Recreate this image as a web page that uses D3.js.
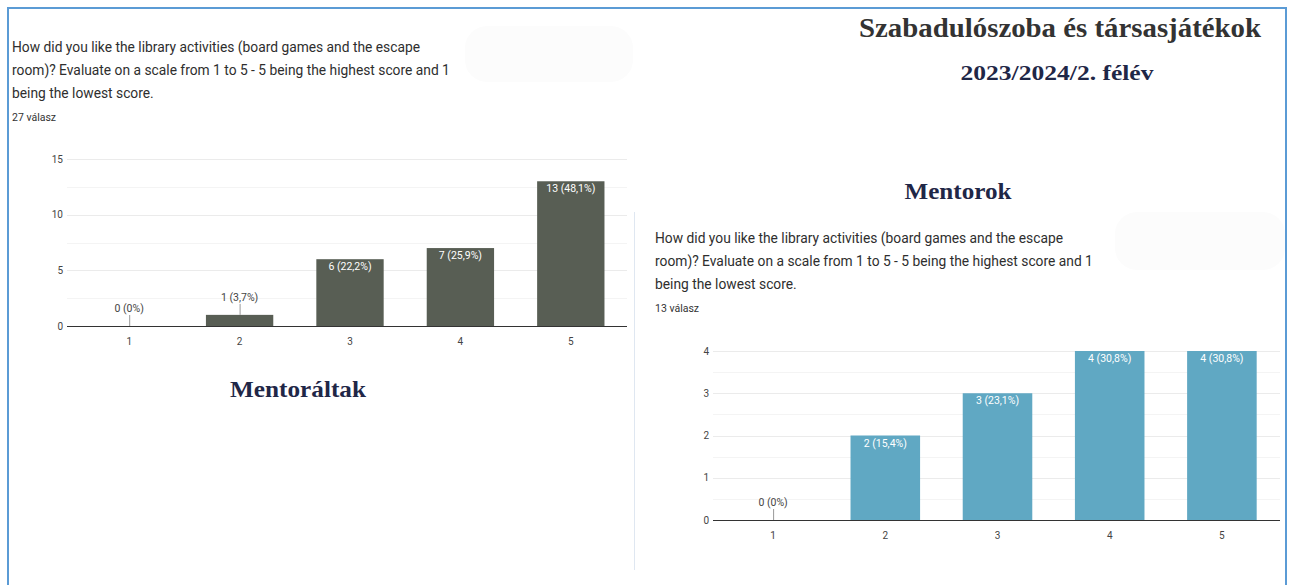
<!DOCTYPE html>
<html>
<head>
<meta charset="utf-8">
<script src="https://cdn.jsdelivr.net/npm/d3@7"></script>
<style>
  body { margin: 0; background: #fff; }
  svg { display: block; }
</style>
</head>
<body>
<svg id="chart" width="1291" height="585"></svg>
<script>
// data
var scores = ["1", "2", "3", "4", "5"];
var mentoraltCounts = [0, 1, 6, 7, 13];
var mentoraltLabels = ["0 (0%)", "1 (3,7%)", "6 (22,2%)", "7 (25,9%)", "13 (48,1%)"];
var mentorCounts = [0, 2, 3, 4, 4];
var mentorLabels = ["0 (0%)", "2 (15,4%)", "3 (23,1%)", "4 (30,8%)", "4 (30,8%)"];
var leftTicks = [0, 5, 10, 15];
var rightTicks = [0, 1, 2, 3, 4];
var questionLines = [
  "How did you like the library activities (board games and the escape",
  "room)? Evaluate on a scale from 1 to 5 - 5 being the highest score and 1",
  "being the lowest score."
];

var svg = d3.select("#chart");

// frame
svg.append("line").attr("x1", 8).attr("x2", 8).attr("y1", 7).attr("y2", 585)
  .attr("stroke", "#5b9bd5").attr("stroke-width", 2);
svg.append("line").attr("x1", 7).attr("x2", 1287).attr("y1", 8).attr("y2", 8)
  .attr("stroke", "#5b9bd5").attr("stroke-width", 2);
svg.append("line").attr("x1", 1286).attr("x2", 1286).attr("y1", 7).attr("y2", 585)
  .attr("stroke", "#5b9bd5").attr("stroke-width", 2);

// faint divider
svg.append("line").attr("x1", 634.5).attr("x2", 634.5).attr("y1", 212).attr("y2", 570)
  .attr("stroke", "#dfe7f1").attr("stroke-width", 1);

// faint blurred boxes
svg.append("rect").attr("x", 465).attr("y", 26).attr("width", 168).attr("height", 56)
  .attr("rx", 22).attr("fill", "#fcfcfc");
svg.append("rect").attr("x", 1115).attr("y", 212).attr("width", 170).attr("height", 58)
  .attr("rx", 22).attr("fill", "#fcfcfc");

// headings
function heading(txt, x, y, size, len, color) {
  svg.append("text").text(txt)
    .attr("x", x).attr("y", y)
    .attr("text-anchor", "middle")
    .attr("font-family", "'Liberation Serif', 'Times New Roman', serif")
    .attr("font-weight", "bold")
    .attr("font-size", size)
    .attr("textLength", len)
    .attr("lengthAdjust", "spacingAndGlyphs")
    .attr("fill", color);
}
heading("Szabadulószoba és társasjátékok", 1060, 37, 28, 402, "#333333");
heading("2023/2024/2. félév", 1057, 80, 22, 193, "#1f2747");
heading("Mentorok", 958, 199, 24, 107, "#1f2747");
heading("Mentoráltak", 298, 397, 24, 136, "#1f2747");

function question(x, y0, n) {
  questionLines.forEach(function(l, i) {
    svg.append("text").text(l)
      .attr("x", x).attr("y", y0 + i * 23)
      .attr("font-family", "Roboto, sans-serif")
      .attr("font-size", 13.8)
      .attr("fill", "#2e2e2e");
  });
  svg.append("text").text(n + " válasz")
    .attr("x", x).attr("y", y0 + 69)
    .attr("font-family", "Roboto, sans-serif")
    .attr("font-size", 10.5)
    .attr("fill", "#333");
}
question(12, 52, 27);
question(655, 243, 13);

function barChart(opt) {
  var g = svg.append("g");
  var x = d3.scaleBand().domain(scores).range(opt.xr).paddingInner(opt.pad).paddingOuter(opt.pad / 2);
  var y = d3.scaleLinear().domain([0, opt.max]).range(opt.yr);

  // grid
  g.selectAll("line.grid")
    .data(d3.range(0, opt.max + 0.001, opt.minor)).enter()
    .append("line")
      .attr("x1", opt.gx[0]).attr("x2", opt.gx[1])
      .attr("y1", function(d) { return Math.round(y(d)) + 0.5; })
      .attr("y2", function(d) { return Math.round(y(d)) + 0.5; })
      .attr("stroke", function(d, i) { return i % 2 === 0 ? "#ebebeb" : "#f4f4f4"; });

  // y axis labels
  var yAxis = g.append("g")
    .attr("transform", "translate(" + (opt.gx[0] - 4) + ",0)")
    .call(d3.axisLeft(y).tickValues(opt.ticks).tickFormat(d3.format("d")).tickSize(0).tickPadding(0));
  yAxis.select(".domain").remove();
  yAxis.selectAll("text").attr("font-family", "Roboto, sans-serif").attr("font-size", 10).attr("fill", "#444");

  // bars
  g.selectAll("rect.bar")
    .data(opt.counts).enter()
    .append("rect")
      .attr("x", function(d, i) { return x(scores[i]); })
      .attr("y", function(d) { return y(d); })
      .attr("width", x.bandwidth())
      .attr("height", function(d) { return y(0) - y(d); })
      .attr("fill", opt.color);

  // labels
  opt.counts.forEach(function(d, i) {
    var cx = x(scores[i]) + x.bandwidth() / 2;
    var inside = (y(0) - y(d)) > 20;
    if (inside) {
      g.append("text").text(opt.labels[i])
        .attr("x", cx).attr("y", y(d) + 11)
        .attr("text-anchor", "middle")
        .attr("font-family", "Roboto, sans-serif").attr("font-size", 10.5)
        .attr("fill", "#fff");
    } else {
      g.append("line")
        .attr("x1", cx + 0.5).attr("x2", cx + 0.5)
        .attr("y1", y(d) - 11).attr("y2", y(d))
        .attr("stroke", "#999");
      g.append("text").text(opt.labels[i])
        .attr("x", cx).attr("y", y(d) - 14)
        .attr("text-anchor", "middle")
        .attr("font-family", "Roboto, sans-serif").attr("font-size", 10.5)
        .attr("fill", "#444");
    }
  });

  // baseline
  g.append("line")
    .attr("x1", opt.gx[0]).attr("x2", opt.gx[1])
    .attr("y1", Math.round(y(0)) + 0.5).attr("y2", Math.round(y(0)) + 0.5)
    .attr("stroke", "#333").attr("stroke-width", 1);

  // x axis labels
  var xAxis = g.append("g")
    .attr("transform", "translate(0," + y(0) + ")")
    .call(d3.axisBottom(x).tickSize(0).tickPadding(12));
  xAxis.select(".domain").remove();
  xAxis.selectAll("text").attr("font-family", "Roboto, sans-serif").attr("font-size", 10).attr("fill", "#444");
}

barChart({
  counts: mentoraltCounts, labels: mentoraltLabels,
  xr: [74, 626], yr: [326, 159], max: 15, minor: 2.5, ticks: leftTicks,
  gx: [67, 627], pad: 0.39, color: "#585e54"
});

barChart({
  counts: mentorCounts, labels: mentorLabels,
  xr: [717, 1278], yr: [520, 351], max: 4, minor: 0.5, ticks: rightTicks,
  gx: [713, 1280], pad: 0.38, color: "#60a8c3"
});
</script>
</body>
</html>
